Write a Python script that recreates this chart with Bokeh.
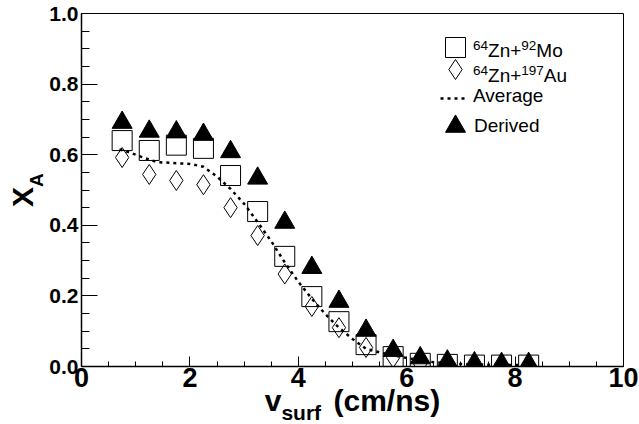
from bokeh.plotting import figure
from bokeh.layouts import column
from bokeh.models import (Range1d, FixedTicker, Legend, LegendItem, Div,
                          NumeralTickFormatter)
from bokeh.embed import file_html
from bokeh.resources import INLINE

# ---- data ----
v_bins = [0.75, 1.25, 1.75, 2.25, 2.75, 3.25, 3.75, 4.25,
          4.75, 5.25, 5.75, 6.25, 6.75, 7.25, 7.75, 8.25]
zn_mo = [0.640, 0.612, 0.627, 0.618, 0.541, 0.439, 0.312, 0.198,
         0.127, 0.062, 0.028, 0.009, 0.006, 0.004, 0.004, 0.004]
zn_au = [0.592, 0.544, 0.527, 0.515, 0.450, 0.371, 0.262, 0.170,
         0.110, 0.054, 0.025, 0.007, 0.005, 0.004, 0.004, 0.004]
derived = [0.691, 0.666, 0.664, 0.657, 0.608, 0.533, 0.408, 0.280,
           0.184, 0.102, 0.045, 0.024, 0.015, 0.010, 0.008, 0.008]
avg_x = [0.70, 0.90, 1.05, 1.25, 1.40, 1.75, 2.00, 2.25, 2.50, 2.75, 3.00,
         3.25, 3.50, 3.75, 4.00, 4.25, 4.50, 4.75, 5.00, 5.25, 5.50,
         6.00, 6.50, 7.00, 7.50, 8.00, 8.30]
avg_y = [0.615, 0.606, 0.597, 0.586, 0.579, 0.576, 0.574, 0.566, 0.538,
         0.503, 0.461, 0.409, 0.355, 0.295, 0.240, 0.192, 0.148, 0.110,
         0.078, 0.050, 0.040, 0.024, 0.012, 0.007, 0.005, 0.004, 0.004]
x_ticks = [0, 2, 4, 6, 8, 10]
y_ticks = [0.0, 0.2, 0.4, 0.6, 0.8, 1.0]

FONT = "Liberation Sans"
W, H = 639, 424

p = figure(width=W, height=H, output_backend="svg", toolbar_location=None,
           x_range=Range1d(0, 10), y_range=Range1d(0, 1),
           min_border_left=81, min_border_right=16, min_border_top=13,
           min_border_bottom=58)
p.grid.visible = False
p.outline_line_color = "black"
p.outline_line_width = 1
p.background_fill_color = "white"
p.border_fill_color = "white"

p.xaxis.ticker = FixedTicker(ticks=x_ticks, minor_ticks=[i * 0.5 for i in range(21)])
p.yaxis.ticker = FixedTicker(ticks=y_ticks, minor_ticks=[i * 0.05 for i in range(21)])
p.yaxis.formatter = NumeralTickFormatter(format="0.0")

for ax in (p.xaxis[0], p.yaxis[0]):
    ax.axis_line_color = "black"
    ax.axis_line_width = 1.5
    ax.major_tick_line_color = "black"
    ax.minor_tick_line_color = "black"
    ax.major_tick_out = 0
    ax.minor_tick_out = 0
    ax.major_label_text_font = FONT
    ax.major_label_text_font_style = "bold"
    ax.major_label_text_color = "black"

p.xaxis.major_tick_in = 10
p.xaxis.minor_tick_in = 5
p.xaxis.major_label_text_font_size = "27px"
p.xaxis.major_label_standoff = 1
p.yaxis.major_tick_in = 16
p.yaxis.minor_tick_in = 8
p.yaxis.major_label_text_font_size = "21px"
p.yaxis.major_label_standoff = 3

r_mo = p.scatter(v_bins, zn_mo, marker="square", size=20, fill_color=None,
                 line_color="black", line_width=1)
r_au = p.scatter(v_bins, zn_au, marker="diamond", size=20, fill_color=None,
                 line_color="black", line_width=1)
r_avg = p.line(avg_x, avg_y, line_color="black", line_width=2.5, line_dash="3 4")
r_der = p.scatter(v_bins, derived, marker="triangle", size=20, fill_color="black",
                  line_color="black")

# legend symbols (texts are placed in the overlay below)
def add_legend(rend, loc, gw, gh):
    lg = Legend(items=[LegendItem(label="", renderers=[rend])], location=loc,
                glyph_width=gw, glyph_height=gh, label_standoff=0,
                padding=0, margin=0, spacing=0, border_line_color=None,
                background_fill_alpha=0, label_text_font=FONT,
                label_text_font_size="19px", label_height=gh)
    p.add_layout(lg)

add_legend(r_mo, (349, 294), 50, 50)
add_legend(r_au, (349, 272), 50, 50)
add_legend(r_avg, (359, 258), 28, 20)
add_legend(r_der, (349, 215), 50, 50)

# ---- text overlay (titles with sub/superscripts, legend texts) ----
BASE = 0.8465  # baseline offset (em) for line-height 1 in Liberation Sans

def piece(html, x, baseline, fs, bold=False, rot=False):
    top = baseline - BASE * fs
    style = ("position:absolute;white-space:nowrap;line-height:1;"
             f"font-size:{fs}px;font-weight:{'bold' if bold else 'normal'};")
    if rot:
        # x = baseline position, baseline arg = start of text (bottom)
        left = x - BASE * fs
        style += (f"left:{left:.1f}px;top:{baseline:.1f}px;"
                  "transform-origin:0 0;transform:rotate(-90deg);")
    else:
        style += f"left:{x:.1f}px;top:{top:.1f}px;"
    return f'<span style="{style}">{html}</span>'

def sup(t, fs=13.5, rise=6.3):
    return (f'<span style="font-size:{fs}px;position:relative;'
            f'top:-{rise}px">{t}</span>')

pieces = [
    # x axis title: v_surf (cm/ns)
    piece("v", 264.7, 411, 30, bold=True),
    piece("surf", 281.4, 420, 21, bold=True),
    piece("(cm/ns)", 333.5, 411, 30, bold=True),
    # y axis title: X_A (rotated)
    piece("X", 33.3, 207, 30, bold=True, rot=True),
    piece("A", 43.3, 187, 19, bold=True, rot=True),
    # legend texts
    piece(sup("64") + "Zn+" + sup("92") + "Mo", 473, 56.7, 19),
    piece(sup("64") + "Zn+" + sup("197") + "Au", 473, 81.7, 19),
    piece("Average", 473, 101.7, 19),
    piece("Derived", 474, 131.7, 19),
]
html = (f'<div style="position:relative;z-index:10;width:{W}px;height:{H}px;'
        f"font-family:'{FONT}',Arial,sans-serif;color:#000;\">"
        + "".join(pieces) + "</div>")
overlay = Div(text=html, width=W, height=H, margin=(-H, 0, 0, 0))

layout = column(p, overlay, width=W, height=H)
open("out.html", "w").write(file_html(layout, INLINE))
